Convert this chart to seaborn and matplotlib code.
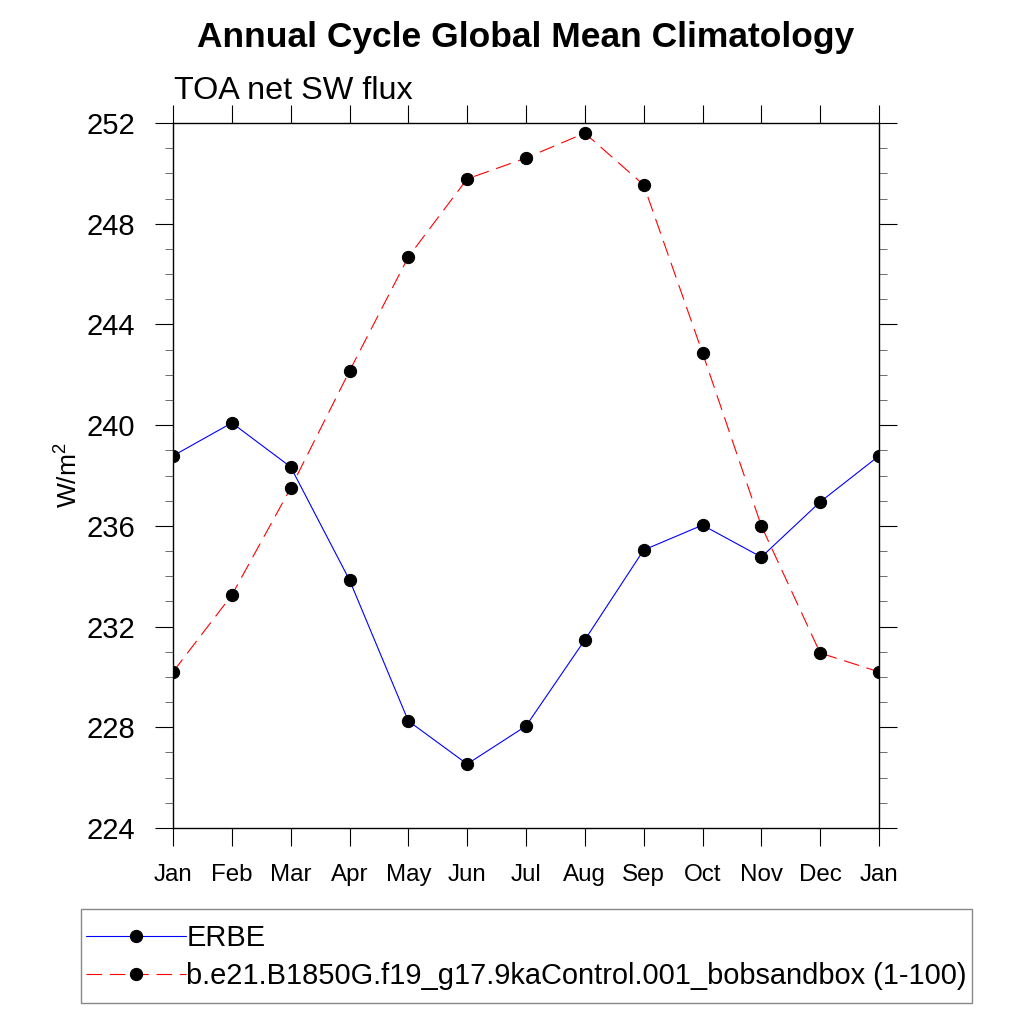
import matplotlib
matplotlib.use("Agg")
import matplotlib.pyplot as plt
import seaborn as sns
import pandas as pd
import numpy as np
from matplotlib.ticker import MultipleLocator
from matplotlib.patches import Rectangle

months = ["Jan", "Feb", "Mar", "Apr", "May", "Jun", "Jul", "Aug", "Sep", "Oct", "Nov", "Dec", "Jan"]
erbe = [238.78, 240.09, 238.34, 233.85, 228.25, 226.54, 228.05, 231.47, 235.04, 236.03, 234.76, 236.95, 238.78]
model = [230.20, 233.25, 237.50, 242.15, 246.68, 249.78, 250.61, 251.60, 249.54, 242.87, 236.00, 230.95, 230.20]
erbe_label = "ERBE"
model_label = "b.e21.B1850G.f19_g17.9kaControl.001_bobsandbox (1-100)"

sns.set_style("ticks")
plt.rcParams['font.family'] = ['Liberation Sans', 'DejaVu Sans']
plt.rcParams['mathtext.fontset'] = 'custom'
plt.rcParams['mathtext.rm'] = 'Liberation Sans'
plt.rcParams['mathtext.it'] = 'Liberation Sans'
plt.rcParams['text.color'] = 'black'
plt.rcParams['axes.labelcolor'] = 'black'
plt.rcParams['xtick.color'] = 'black'
plt.rcParams['ytick.color'] = 'black'

x = np.arange(len(months))
df_e = pd.DataFrame({"x": x, "y": erbe})
df_m = pd.DataFrame({"x": x, "y": model})

fig = plt.figure(figsize=(10.24, 10.24), dpi=100)
ax = fig.add_axes([173/1024, 1-828/1024, (879-173)/1024, (828-123)/1024])

sns.lineplot(data=df_e, x="x", y="y", ax=ax, color="blue", lw=0.8,
             marker="o", markersize=8.8, markerfacecolor="black",
             markeredgecolor="black", label=erbe_label)
sns.lineplot(data=df_m, x="x", y="y", ax=ax, color="red", lw=0.8,
             marker="o", markersize=8.8, markerfacecolor="black",
             markeredgecolor="black", label=model_label, dashes=False)
ax.lines[1].set_dashes((14, 7))

ax.set_xlim(0, 12)
ax.set_ylim(224, 252)
ax.set_xticks(x)
ax.set_xticklabels(months, fontsize=17.4, color='black')
ax.yaxis.set_major_locator(MultipleLocator(4))
ax.yaxis.set_minor_locator(MultipleLocator(1))
ax.tick_params(which='major', direction='out', length=13, width=0.8,
               top=True, right=True)
ax.tick_params(axis='y', which='major', labelsize=21, pad=14, labelcolor='black')
ax.tick_params(axis='x', which='major', pad=13, labelcolor='black')
ax.tick_params(which='minor', direction='out', length=6, width=0.6, color='#555555',
               left=True, right=True, top=False, bottom=False)
for s in ax.spines.values():
    s.set_visible(True)
    s.set_linewidth(1.0)
    s.set_color('black')
ax.set_xlabel("")
ax.set_ylabel("W/m$^2$", fontsize=19, labelpad=3, color='black')

fig.text(526/1024, 1-37/1024, "Annual Cycle Global Mean Climatology",
         ha='center', va='center', fontsize=25.5, fontweight='bold', color='black')
fig.text(174/1024, 1-99/1024, "TOA net SW flux", ha='left', va='baseline',
         fontsize=23.3, color='black')

leg = ax.legend(loc='upper left', bbox_to_anchor=(86/1024, 1-924/1024),
                bbox_transform=fig.transFigure, fontsize=20.9, frameon=False,
                handlelength=3.45, handletextpad=0.0, borderpad=0.0,
                labelspacing=0.34, borderaxespad=0, numpoints=1)
for t in leg.get_texts():
    t.set_color('black')
fig.patches.append(Rectangle((81/1024, 1-1003/1024), (972-81)/1024, (1003-909)/1024,
                             transform=fig.transFigure, fill=False,
                             edgecolor='#888888', linewidth=1.0))

fig.savefig("out.png", dpi=100)
